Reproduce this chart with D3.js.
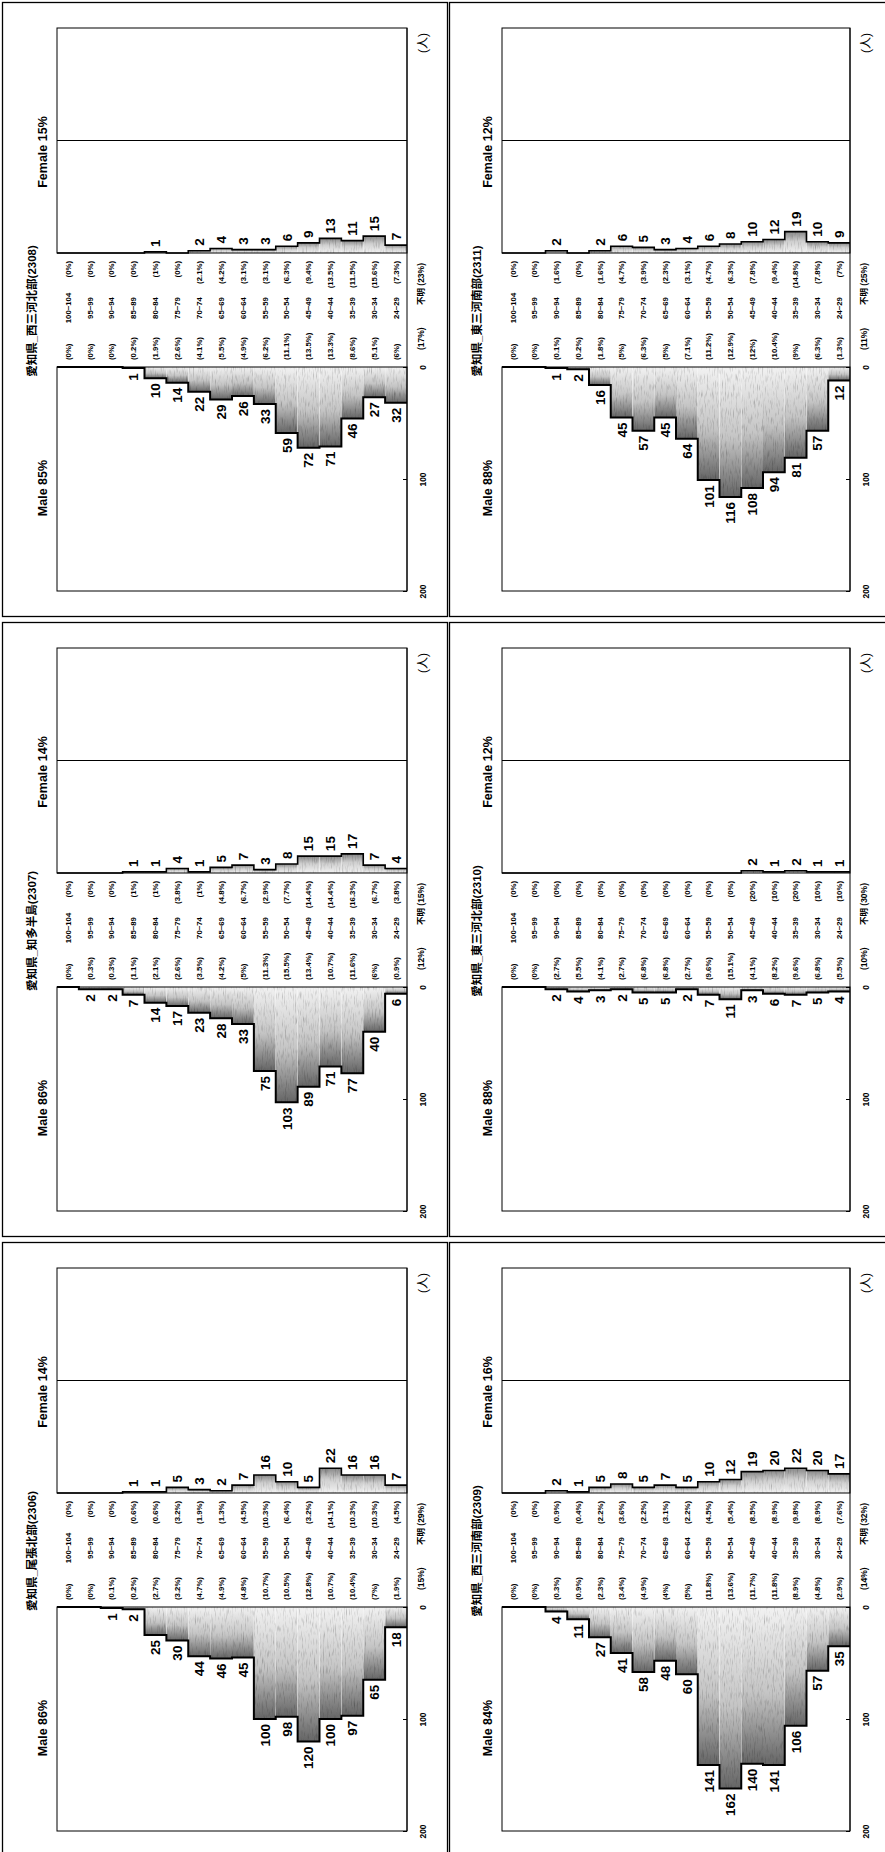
<!DOCTYPE html>
<html>
<head>
<meta charset="utf-8">
<script src="https://cdn.jsdelivr.net/npm/d3@7"></script>
<style>
  body { margin: 0; background: #fff; }
  text { font-family: "Liberation Sans", Arial, "Noto Sans CJK JP", sans-serif; font-weight: bold; }
</style>
</head>
<body>
<div class="container"></div>
<script>
// age bands, top of the pyramid first
const ages = ["100~104", "95~99", "90~94", "85~89", "80~84", "75~79", "70~74", "65~69",
              "60~64", "55~59", "50~54", "45~49", "40~44", "35~39", "30~34", "24~29"]
const valueTicks = [0, 100, 200]

// 愛知県_西三河北部(2308)
const male2308 = [0, 0, 0, 1, 10, 14, 22, 29, 26, 33, 59, 72, 71, 46, 27, 32]
const female2308 = [0, 0, 0, 0, 1, 0, 2, 4, 3, 3, 6, 9, 13, 11, 15, 7]
const malePct2308 = ["(0%)", "(0%)", "(0%)", "(0.2%)", "(1.9%)", "(2.6%)", "(4.1%)", "(5.5%)", "(4.9%)", "(6.2%)", "(11.1%)", "(13.5%)", "(13.3%)", "(8.6%)", "(5.1%)", "(6%)"]
const femalePct2308 = ["(0%)", "(0%)", "(0%)", "(0%)", "(1%)", "(0%)", "(2.1%)", "(4.2%)", "(3.1%)", "(3.1%)", "(6.3%)", "(9.4%)", "(13.5%)", "(11.5%)", "(15.6%)", "(7.3%)"]

// 愛知県_知多半島(2307)
const male2307 = [0, 2, 2, 7, 14, 17, 23, 28, 33, 75, 103, 89, 71, 77, 40, 6]
const female2307 = [0, 0, 0, 1, 1, 4, 1, 5, 7, 3, 8, 15, 15, 17, 7, 4]
const malePct2307 = ["(0%)", "(0.3%)", "(0.3%)", "(1.1%)", "(2.1%)", "(2.6%)", "(3.5%)", "(4.2%)", "(5%)", "(11.3%)", "(15.5%)", "(13.4%)", "(10.7%)", "(11.6%)", "(6%)", "(0.9%)"]
const femalePct2307 = ["(0%)", "(0%)", "(0%)", "(1%)", "(1%)", "(3.8%)", "(1%)", "(4.8%)", "(6.7%)", "(2.9%)", "(7.7%)", "(14.4%)", "(14.4%)", "(16.3%)", "(6.7%)", "(3.8%)"]

// 愛知県_尾張北部(2306)
const male2306 = [0, 0, 1, 2, 25, 30, 44, 46, 45, 100, 98, 120, 100, 97, 65, 18]
const female2306 = [0, 0, 0, 1, 1, 5, 3, 2, 7, 16, 10, 5, 22, 16, 16, 7]
const malePct2306 = ["(0%)", "(0%)", "(0.1%)", "(0.2%)", "(2.7%)", "(3.2%)", "(4.7%)", "(4.9%)", "(4.8%)", "(10.7%)", "(10.5%)", "(12.8%)", "(10.7%)", "(10.4%)", "(7%)", "(1.9%)"]
const femalePct2306 = ["(0%)", "(0%)", "(0%)", "(0.6%)", "(0.6%)", "(3.2%)", "(1.9%)", "(1.3%)", "(4.5%)", "(10.3%)", "(6.4%)", "(3.2%)", "(14.1%)", "(10.3%)", "(10.3%)", "(4.5%)"]

// 愛知県_東三河南部(2311)
const male2311 = [0, 0, 1, 2, 16, 45, 57, 45, 64, 101, 116, 108, 94, 81, 57, 12]
const female2311 = [0, 0, 2, 0, 2, 6, 5, 3, 4, 6, 8, 10, 12, 19, 10, 9]
const malePct2311 = ["(0%)", "(0%)", "(0.1%)", "(0.2%)", "(1.8%)", "(5%)", "(6.3%)", "(5%)", "(7.1%)", "(11.2%)", "(12.9%)", "(12%)", "(10.4%)", "(9%)", "(6.3%)", "(1.3%)"]
const femalePct2311 = ["(0%)", "(0%)", "(1.6%)", "(0%)", "(1.6%)", "(4.7%)", "(3.9%)", "(2.3%)", "(3.1%)", "(4.7%)", "(6.3%)", "(7.8%)", "(9.4%)", "(14.8%)", "(7.8%)", "(7%)"]

// 愛知県_東三河北部(2310)
const male2310 = [0, 0, 2, 4, 3, 2, 5, 5, 2, 7, 11, 3, 6, 7, 5, 4]
const female2310 = [0, 0, 0, 0, 0, 0, 0, 0, 0, 0, 0, 2, 1, 2, 1, 1]
const malePct2310 = ["(0%)", "(0%)", "(2.7%)", "(5.5%)", "(4.1%)", "(2.7%)", "(6.8%)", "(6.8%)", "(2.7%)", "(9.6%)", "(15.1%)", "(4.1%)", "(8.2%)", "(9.6%)", "(6.8%)", "(5.5%)"]
const femalePct2310 = ["(0%)", "(0%)", "(0%)", "(0%)", "(0%)", "(0%)", "(0%)", "(0%)", "(0%)", "(0%)", "(0%)", "(20%)", "(10%)", "(20%)", "(10%)", "(10%)"]

// 愛知県_西三河南部(2309)
const male2309 = [0, 0, 4, 11, 27, 41, 58, 48, 60, 141, 162, 140, 141, 106, 57, 35]
const female2309 = [0, 0, 2, 1, 5, 8, 5, 7, 5, 10, 12, 19, 20, 22, 20, 17]
const malePct2309 = ["(0%)", "(0%)", "(0.3%)", "(0.9%)", "(2.3%)", "(3.4%)", "(4.9%)", "(4%)", "(5%)", "(11.8%)", "(13.6%)", "(11.7%)", "(11.8%)", "(8.9%)", "(4.8%)", "(2.9%)"]
const femalePct2309 = ["(0%)", "(0%)", "(0.9%)", "(0.4%)", "(2.2%)", "(3.6%)", "(2.2%)", "(3.1%)", "(2.2%)", "(4.5%)", "(5.4%)", "(8.5%)", "(8.9%)", "(9.8%)", "(8.9%)", "(7.6%)"]

// panel headers, unknown-age shares, in page order (left column top->bottom, then right column)
const titles = ["愛知県_西三河北部(2308)", "愛知県_知多半島(2307)", "愛知県_尾張北部(2306)",
                "愛知県_東三河南部(2311)", "愛知県_東三河北部(2310)", "愛知県_西三河南部(2309)"]
const maleShares = ["Male 85%", "Male 86%", "Male 86%", "Male 88%", "Male 88%", "Male 84%"]
const femaleShares = ["Female 15%", "Female 14%", "Female 14%", "Female 12%", "Female 12%", "Female 16%"]
const maleUnknown = ["(17%)", "(12%)", "(15%)", "(11%)", "(10%)", "(14%)"]
const femaleUnknown = ["(23%)", "(15%)", "(29%)", "(25%)", "(30%)", "(32%)"]

const males = [male2308, male2307, male2306, male2311, male2310, male2309]
const females = [female2308, female2307, female2306, female2311, female2310, female2309]
const malePcts = [malePct2308, malePct2307, malePct2306, malePct2311, malePct2310, malePct2309]
const femalePcts = [femalePct2308, femalePct2307, femalePct2306, femalePct2311, femalePct2310, femalePct2309]

const W = 885, H = 1852

const svg = d3.select(".container")
    .append("svg")
    .attr("width", W)
    .attr("height", H)
    .style("display", "block")

svg.append("rect").attr("width", W).attr("height", H).attr("fill", "#fff")

const defs = svg.append("defs")
// male bars: light at the zero line, dark at the bar end (downward)
const gm = defs.append("linearGradient").attr("id", "gMale")
    .attr("x1", 0).attr("y1", 0).attr("x2", 0).attr("y2", 1)
gm.append("stop").attr("offset", "0%").attr("stop-color", "#f2f2f2")
gm.append("stop").attr("offset", "55%").attr("stop-color", "#c4c4c4")
gm.append("stop").attr("offset", "100%").attr("stop-color", "#656565")
// female bars go upward
const gf = defs.append("linearGradient").attr("id", "gFemale")
    .attr("x1", 0).attr("y1", 1).attr("x2", 0).attr("y2", 0)
gf.append("stop").attr("offset", "0%").attr("stop-color", "#f2f2f2")
gf.append("stop").attr("offset", "55%").attr("stop-color", "#cfcfcf")
gf.append("stop").attr("offset", "100%").attr("stop-color", "#888")

// dithered look of the scanned fill: speckles stretched along the value direction
const grain = defs.append("filter").attr("id", "grain")
    .attr("x", 0).attr("y", 0).attr("width", 1).attr("height", 1)
grain.append("feTurbulence").attr("type", "fractalNoise")
    .attr("baseFrequency", "0.9 0.12").attr("numOctaves", 2).attr("seed", 7).attr("result", "noise")
grain.append("feColorMatrix").attr("in", "noise").attr("type", "saturate").attr("values", 0).attr("result", "grey")
const ct = grain.append("feComponentTransfer").attr("in", "grey").attr("result", "specks")
;["feFuncR", "feFuncG", "feFuncB"].forEach(f => ct.append(f).attr("type", "linear").attr("slope", 1.4).attr("intercept", 0.3))
ct.append("feFuncA").attr("type", "linear").attr("slope", 0).attr("intercept", 1)
grain.append("feBlend").attr("in", "SourceGraphic").attr("in2", "specks").attr("mode", "multiply").attr("result", "mix")
grain.append("feComposite").attr("in", "mix").attr("in2", "SourceGraphic").attr("operator", "in")

const rot = (x, y) => `translate(${x},${y}) rotate(-90)`

const panel = (i) => {
    const col = Math.floor(i / 3)
    const row = i % 3
    const left = col == 0 ? 57 : 502
    const width = col == 0 ? 350 : 348
    const right = left + width
    const bf = 253 + row * 620     // female zero line
    const bm = bf + 114            // male zero line

    const g = svg.append("g").attr("class", "panel")

    // frame
    g.append("rect")
        .attr("x", col == 0 ? 2.5 : 449.5)
        .attr("y", row * 620 + 2.5)
        .attr("width", col == 0 ? 445 : 440)
        .attr("height", 614)
        .attr("fill", "none")
        .attr("stroke", "#000")
        .attr("stroke-width", 1.3)

    const x = d3.scaleBand().domain(ages).range([left, right]).padding(0)
    const yM = d3.scaleLinear().domain([0, 200]).range([bm, bm + 224])
    const yF = d3.scaleLinear().domain([0, 200]).range([bf, bf - 225])
    const bw = x.bandwidth()

    const mData = ages.map((a, j) => ({ age: a, v: males[i][j], pct: malePcts[i][j] }))
    const fData = ages.map((a, j) => ({ age: a, v: females[i][j], pct: femalePcts[i][j] }))

    // bars
    const bars = g.append("g").attr("filter", "url(#grain)")
    bars.selectAll(".mbar")
        .data(mData.filter(d => d.v > 0))
        .join("rect")
        .attr("class", "mbar")
        .attr("x", d => x(d.age))
        .attr("y", yM(0))
        .attr("width", bw)
        .attr("height", d => yM(d.v) - yM(0))
        .attr("fill", "url(#gMale)")

    bars.selectAll(".fbar")
        .data(fData.filter(d => d.v > 0))
        .join("rect")
        .attr("class", "fbar")
        .attr("x", d => x(d.age))
        .attr("y", d => yF(d.v))
        .attr("width", bw)
        .attr("height", d => yF(0) - yF(d.v))
        .attr("fill", "url(#gFemale)")

    // plot boxes
    g.append("rect").attr("x", left).attr("y", yF(200)).attr("width", width).attr("height", yF(0) - yF(200))
        .attr("fill", "none").attr("stroke", "#000").attr("stroke-width", 1)
    g.append("rect").attr("x", left).attr("y", yM(0)).attr("width", width).attr("height", yM(200) - yM(0))
        .attr("fill", "none").attr("stroke", "#000").attr("stroke-width", 1)
    g.append("line").attr("x1", right).attr("x2", right).attr("y1", yF(200)).attr("y2", yM(200))
        .attr("stroke", "#000").attr("stroke-width", 1)
    g.append("line").attr("x1", left).attr("x2", right).attr("y1", yF(100)).attr("y2", yF(100))
        .attr("stroke", "#000").attr("stroke-width", 1)

    // stepped outline along the bar ends
    const step = (data, y) => d3.line()(data.flatMap(d => [[x(d.age), y(d.v)], [x(d.age) + bw, y(d.v)]]))
    g.append("path").attr("d", step(mData, yM))
        .attr("fill", "none").attr("stroke", "#000").attr("stroke-width", 2)
    g.append("path").attr("d", step(fData, yF))
        .attr("fill", "none").attr("stroke", "#000").attr("stroke-width", 1.6)

    // value labels
    g.selectAll(".mval")
        .data(mData.filter(d => d.v > 0))
        .join("text")
        .attr("class", "mval")
        .attr("transform", d => rot(x(d.age) + bw / 2, yM(d.v) + 5))
        .attr("dy", "0.36em")
        .attr("text-anchor", "end")
        .style("font-size", "13.5px")
        .text(d => d.v)

    g.selectAll(".fval")
        .data(fData.filter(d => d.v > 0))
        .join("text")
        .attr("class", "fval")
        .attr("transform", d => rot(x(d.age) + bw / 2, yF(d.v) - 5))
        .attr("dy", "0.36em")
        .attr("text-anchor", "start")
        .style("font-size", "13.5px")
        .text(d => d.v)

    // category band: female share, age, male share
    g.selectAll(".fpct")
        .data(fData)
        .join("text")
        .attr("class", "fpct")
        .attr("transform", d => rot(x(d.age) + bw / 2, bf + 8))
        .attr("dy", "0.35em")
        .attr("text-anchor", "end")
        .style("font-size", "7.8px")
        .text(d => d.pct)

    g.selectAll(".age")
        .data(ages)
        .join("text")
        .attr("class", "age")
        .attr("transform", d => rot(x(d) + bw / 2, bf + 55))
        .attr("dy", "0.35em")
        .attr("text-anchor", "middle")
        .style("font-size", "7.8px")
        .text(d => d)

    g.selectAll(".mpct")
        .data(mData)
        .join("text")
        .attr("class", "mpct")
        .attr("transform", d => rot(x(d.age) + bw / 2, bm - 7))
        .attr("dy", "0.35em")
        .attr("text-anchor", "start")
        .style("font-size", "7.8px")
        .text(d => d.pct)

    // unknown ages, outside the plot
    g.append("text")
        .attr("transform", rot(right + 14, bf + 10))
        .attr("dy", "0.35em").attr("text-anchor", "end")
        .style("font-size", "8.5px")
        .text("不明 " + femaleUnknown[i])
    g.append("text")
        .attr("transform", rot(right + 14, bm - 17))
        .attr("dy", "0.35em").attr("text-anchor", "start")
        .style("font-size", "8.5px")
        .text(maleUnknown[i])

    // male value axis on the right
    const axis = g.append("g")
        .attr("transform", `translate(${right},0)`)
        .call(d3.axisRight(yM).tickValues(valueTicks).tickSizeInner(-4).tickSizeOuter(0))
    axis.select(".domain").remove()
    axis.selectAll("line").attr("stroke", "#000")
    axis.selectAll("text")
        .attr("x", null).attr("dy", "0.35em")
        .attr("transform", "translate(16,0) rotate(-90)")
        .attr("text-anchor", "middle")
        .attr("fill", "#000")
        .style("font-size", "8.5px")
        .style("font-family", null)

    g.append("text")
        .attr("transform", rot(right + 16, bf - 210))
        .attr("dy", "0.35em").attr("text-anchor", "middle")
        .style("font-size", "12px").style("font-weight", "normal")
        .text("(人)")

    // headers
    g.append("text")
        .attr("transform", rot(left - 25, bf + 58))
        .attr("dy", "0.35em").attr("text-anchor", "middle")
        .style("font-size", "11.5px")
        .text(titles[i])
    g.append("text")
        .attr("transform", rot(left - 14, bf - 101))
        .attr("dy", "0.35em").attr("text-anchor", "middle")
        .style("font-size", "12.5px")
        .text(femaleShares[i])
    g.append("text")
        .attr("transform", rot(left - 14, bf + 235))
        .attr("dy", "0.35em").attr("text-anchor", "middle")
        .style("font-size", "12.5px")
        .text(maleShares[i])
}

d3.range(6).forEach(panel)
</script>
</body>
</html>
